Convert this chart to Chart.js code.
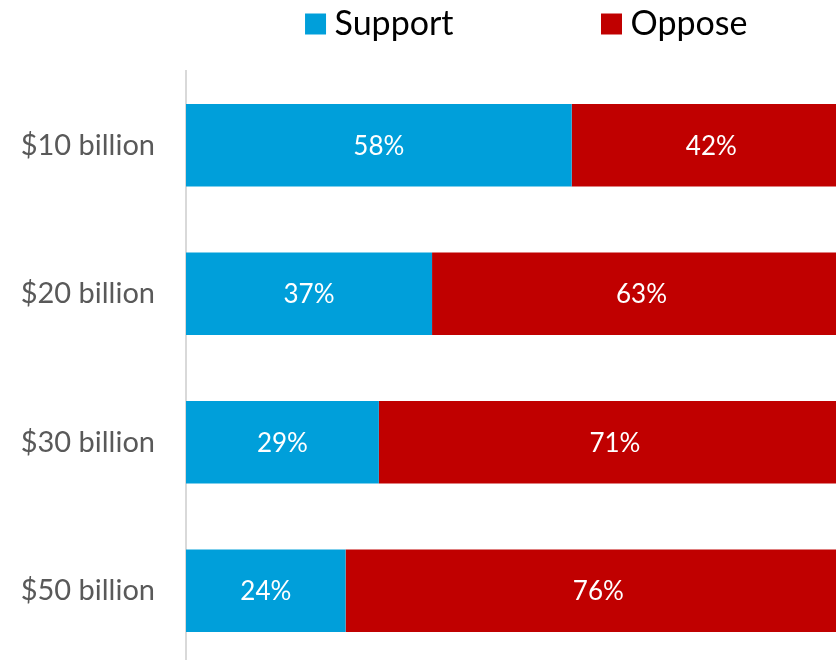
<!DOCTYPE html>
<html>
<head>
<meta charset="utf-8">
<script src="https://cdn.jsdelivr.net/npm/chart.js@4.4.1/dist/chart.umd.min.js"></script>
<style>
  html, body { margin: 0; padding: 0; background: #fff; overflow: hidden; }
  #wrap { position: absolute; left: 0; top: 0; width: 851px; height: 665px; }
</style>
</head>
<body>
<div id="wrap"><canvas id="c" width="851" height="665"></canvas></div>
<script>
const categories = ['$10 billion', '$20 billion', '$30 billion', '$50 billion'];
const supportValues = [58, 37, 29, 24];
const opposeValues = [42, 63, 71, 76];
const seriesNames = ['Support', 'Oppose'];
const seriesColors = ['#009FDA', '#C00000'];

const GAP = '                 ';

const barLabels = {
  id: 'barLabels',
  afterDatasetsDraw(chart) {
    const ctx = chart.ctx;
    ctx.save();
    ctx.font = '26px Lato';
    ctx.fillStyle = '#FFFFFF';
    ctx.textAlign = 'center';
    ctx.textBaseline = 'middle';
    chart.data.datasets.forEach((ds, di) => {
      const meta = chart.getDatasetMeta(di);
      meta.data.forEach((el, i) => {
        const p = el.getProps(['x', 'y', 'base'], true);
        ctx.fillText(ds.data[i] + '%', (p.x + p.base) / 2, p.y + 1);
      });
    });
    ctx.restore();
  }
};

const legendShift = {
  id: 'legendShift',
  afterLayout(chart) {
    if (chart.legend) {
      chart.legend.left += 12;
      chart.legend.right += 12;
      chart.legend.top -= 20;
      chart.legend.bottom -= 20;
    }
  }
};

new Chart(document.getElementById('c'), {
  type: 'bar',
  data: {
    labels: categories,
    datasets: [
      { label: seriesNames[0] + GAP, data: supportValues, backgroundColor: seriesColors[0] },
      { label: seriesNames[1], data: opposeValues, backgroundColor: seriesColors[1] }
    ]
  },
  options: {
    indexAxis: 'y',
    responsive: false,
    animation: false,
    devicePixelRatio: 1,
    layout: { padding: 0 },
    datasets: { bar: { categoryPercentage: 1, barPercentage: 0.555, borderWidth: 0 } },
    scales: {
      x: { stacked: true, min: 0, max: 100, display: false },
      y: {
        stacked: true,
        afterFit(scale) {
          scale.width = 186;
          scale.paddingTop = 71;
          scale.paddingBottom = 0;
        },
        grid: { display: false, drawTicks: false },
        border: { display: true, color: '#D9D9D9', width: 2 },
        ticks: { color: '#595959', font: { family: 'Lato', size: 29 }, padding: 31 }
      }
    },
    plugins: {
      tooltip: { enabled: false },
      legend: {
        position: 'top',
        fullSize: false,
        labels: {
          usePointStyle: true,
          pointStyle: 'rect',
          boxWidth: 4,
          boxHeight: 21,
          padding: 8,
          color: '#000000',
          font: { family: 'Lato', size: 34 }
        }
      }
    }
  },
  plugins: [barLabels, legendShift]
});
</script>
</body>
</html>
